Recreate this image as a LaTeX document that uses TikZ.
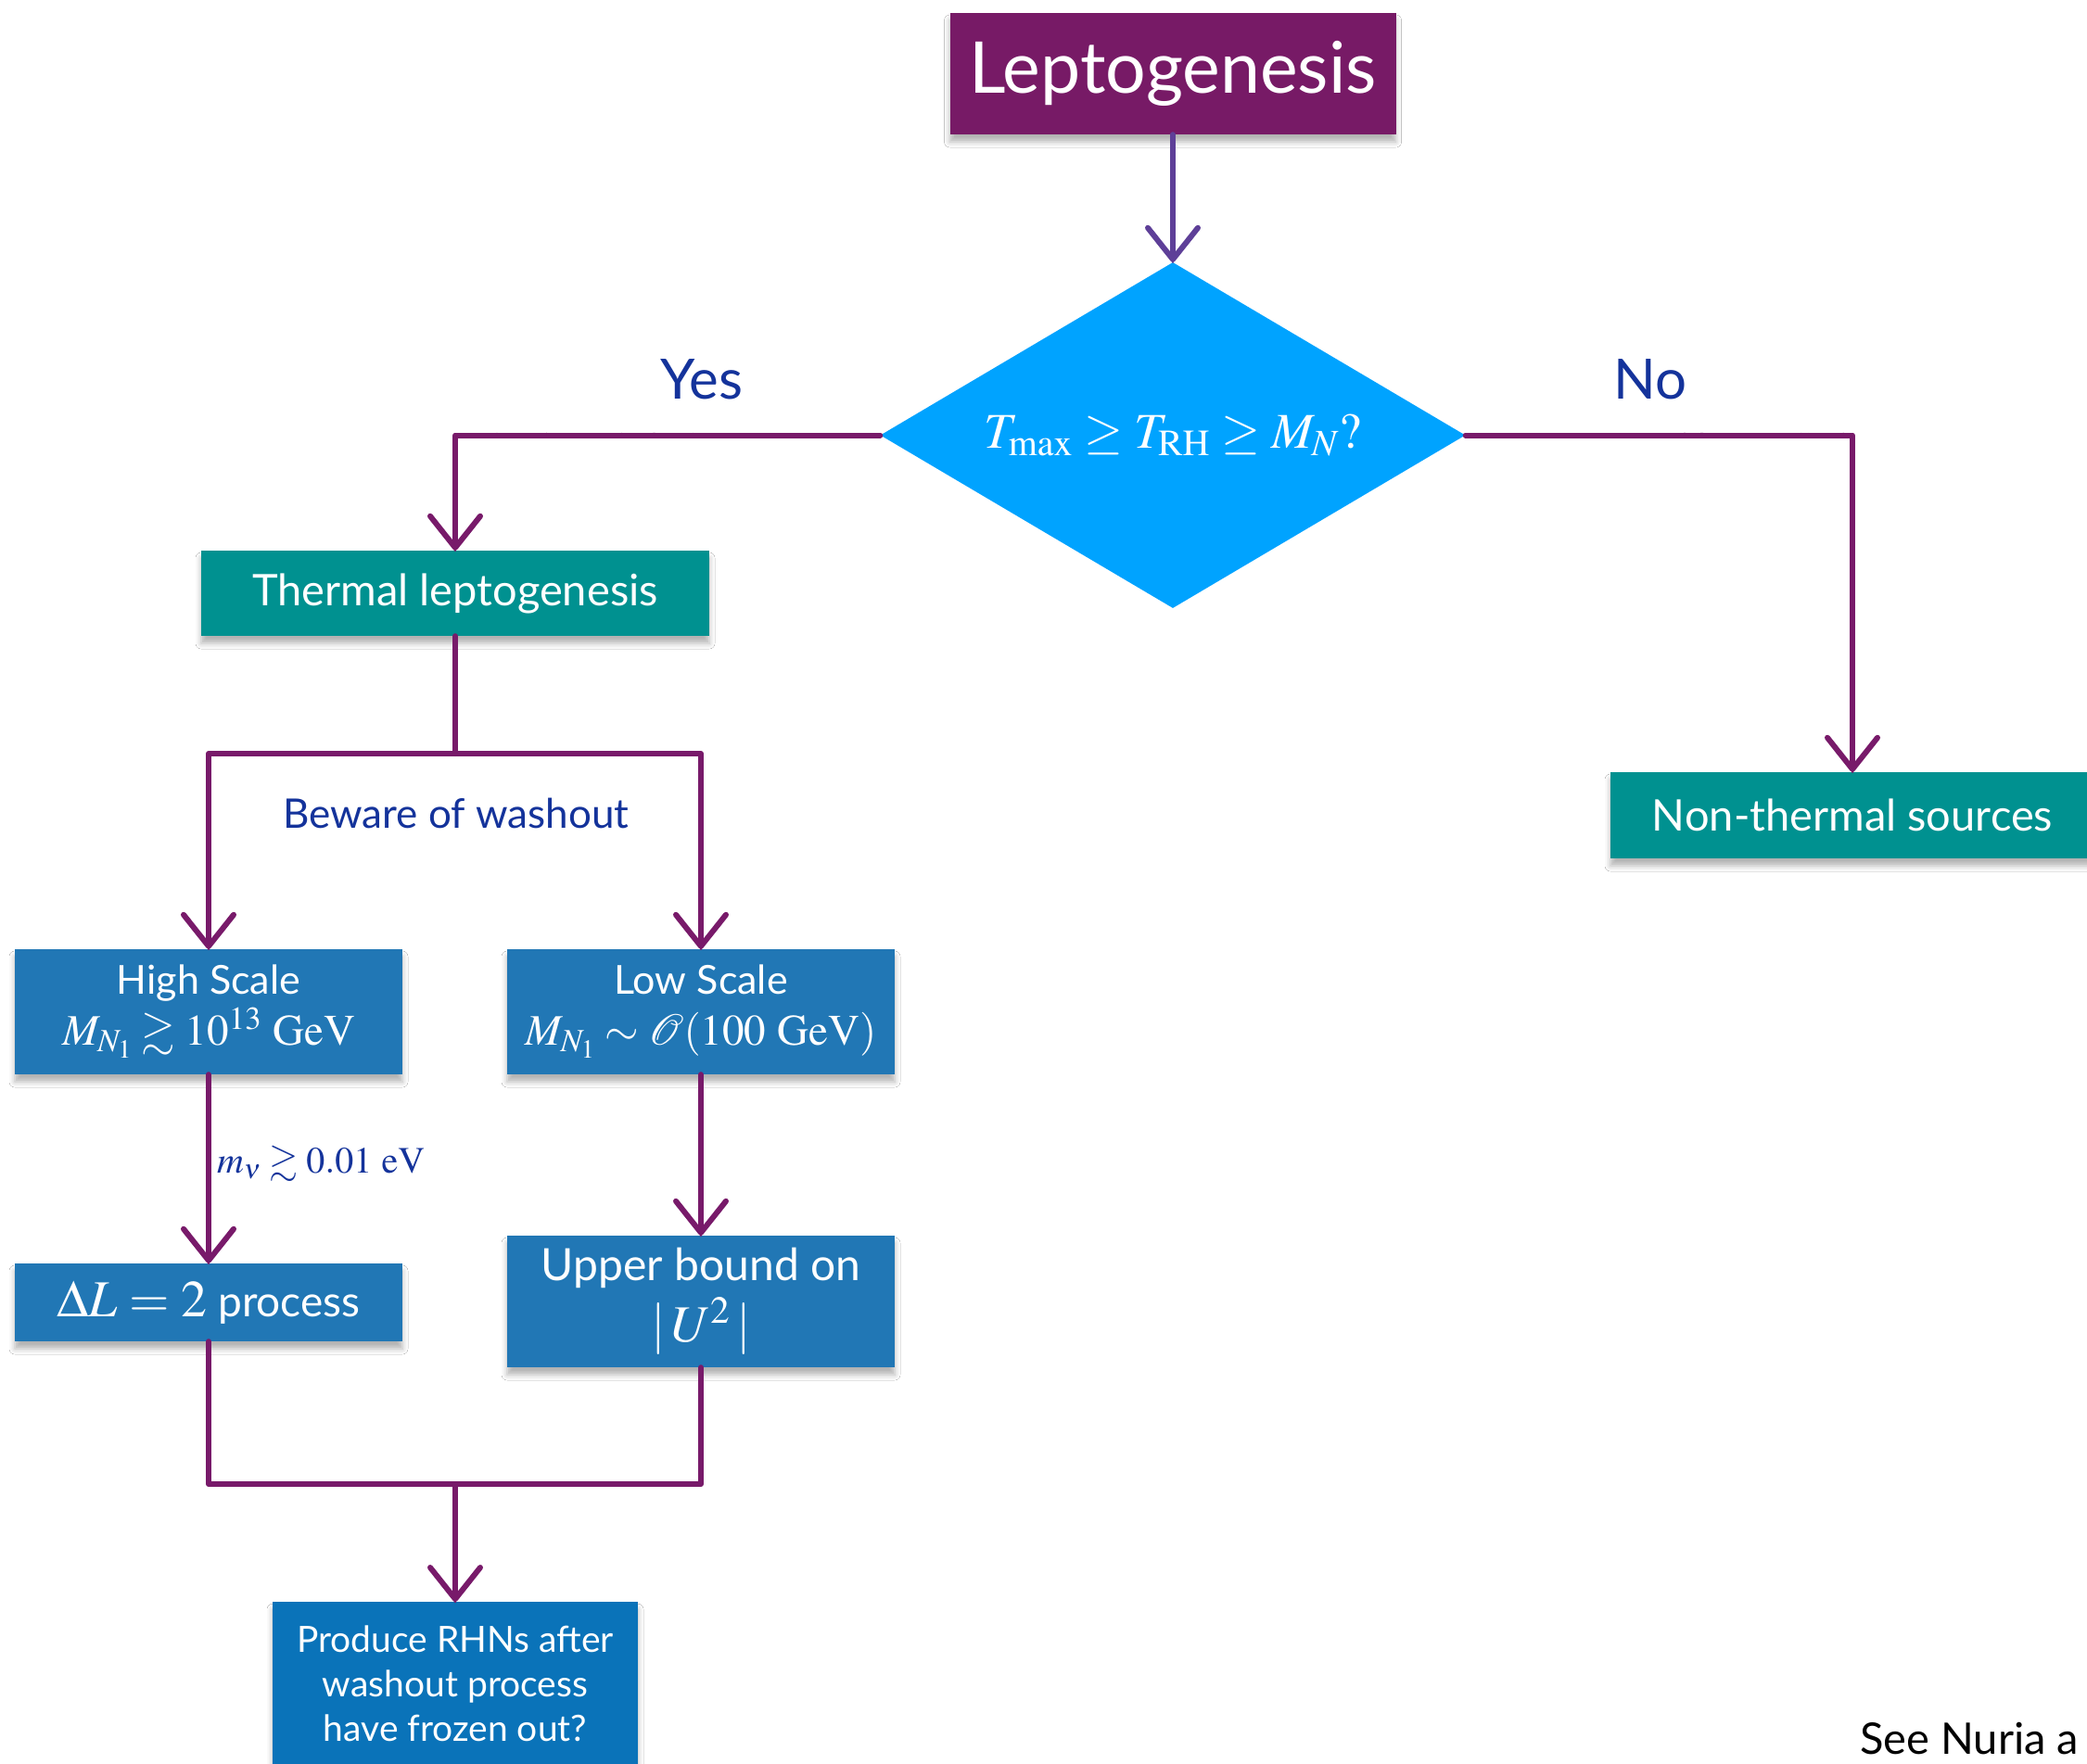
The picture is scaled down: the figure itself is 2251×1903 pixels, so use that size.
\documentclass[tikz,border=0pt]{standalone}
\usepackage{amsmath,amssymb}
\usepackage{mathptmx}
\usepackage[no-math]{fontspec}
\setmainfont{Lato}
\usetikzlibrary{shapes.geometric,arrows.meta,shadows.blur,decorations.pathmorphing}
\definecolor{leptopurple}{HTML}{771A66}
\definecolor{thermalteal}{HTML}{009190}
\definecolor{questionblue}{HTML}{00A3FF}
\definecolor{scaleblue}{HTML}{2177B5}
\definecolor{rhnblue}{HTML}{0A73B9}
\definecolor{linkpurple}{HTML}{781A6A}
\definecolor{linkviolet}{HTML}{5E3F98}
\definecolor{labelblue}{HTML}{14339B}
\newcommand\fsz[2]{\fontsize{#1pt}{#2pt}\selectfont}
\begin{document}
\begin{tikzpicture}[x=1pt,y=-1pt,
  box/.style={rectangle, inner sep=0pt, text=white, align=center,
    blur shadow={shadow xshift=0pt, shadow yshift=-8pt, shadow blur radius=6pt, shadow opacity=30}},
  conn/.style={draw=linkpurple, line width=6pt, line cap=round, line join=round,
    postaction={draw, -, line width=2.5pt, decorate,
      decoration={random steps, segment length=3pt, amplitude=1.4pt}}},
  arr/.style={conn, -{Straight Barb[length=34pt, width=54pt, round]}},
  lbl/.style={text=labelblue, inner sep=0pt}
]
\useasboundingbox (0,0) rectangle (2251,1903);
\fill[white] (0,0) rectangle (2251,1903);

% boxes
\node[box, fill=leptopurple, minimum width=481pt, minimum height=131pt, font=\fsz{77}{92}]
  (lepto) at (1265,79.5) {Leptogenesis};
\node[diamond, aspect=1.69, inner sep=0pt, minimum width=631pt, minimum height=373pt,
  fill=questionblue, text=white, font=\fsz{54}{64}]
  (q) at (1265,469.5) {$T_{\max}\geq T_{\mathrm{RH}}\geq M_N?$};
\node[box, fill=thermalteal, minimum width=548pt, minimum height=92pt, font=\fsz{47}{56}]
  (thermal) at (491,640) {Thermal leptogenesis};
\node[box, fill=thermalteal, minimum width=522pt, minimum height=93pt, font=\fsz{47}{56}]
  (nonthermal) at (1998,879.5) {Non-thermal sources};
\node[box, fill=scaleblue, minimum width=418pt, minimum height=135pt, font=\fsz{43}{55}]
  (high) at (225,1091.5) {High Scale\\ {\fsz{47}{55}$M_{N_1}\gtrsim 10^{13}\ \mathrm{GeV}$}};
\node[box, fill=scaleblue, minimum width=418pt, minimum height=135pt, font=\fsz{43}{55}]
  (low) at (756,1091.5) {Low Scale\\ {\fsz{47}{55}$M_{N_1}\sim \mathcal{O}(100\ \mathrm{GeV})$}};
\node[box, fill=scaleblue, minimum width=418pt, minimum height=84pt, font=\fsz{46}{54}]
  (dl) at (225,1405) {{\fsz{56}{60}$\Delta L = 2$} process};
\node[box, fill=scaleblue, minimum width=418pt, minimum height=142pt, font=\fsz{48}{66}]
  (ub) at (756,1404) {Upper bound on\\ {\fsz{56}{66}$|\,U^2\,|$}};
\node[box, fill=rhnblue, minimum width=394pt, minimum height=270pt, anchor=north,
  font=\fsz{39}{48}, align=center]
  (produce) at (491,1728) {Produce RHNs after\\ washout process\\ have frozen out?\\[46pt]};

% labels
\node[lbl, font=\fsz{60}{70}] (yes) at (757,409) {Yes};
\node[lbl, font=\fsz{60}{70}] (no) at (1780,409) {No};
\node[lbl, font=\fsz{44}{52}] (beware) at (492,877) {Beware of washout};
\node[lbl, font=\fsz{40}{48}, anchor=west] (mnu) at (234,1255) {$m_\nu \gtrsim 0.01\ \mathrm{eV}$};
\node[inner sep=0pt, anchor=west, font=\fsz{47}{56}] (see) at (2006,1876) {See Nuria a};

% junction points
\coordinate (split) at (491,813);
\coordinate (merge) at (491,1601);

% connectors
\draw[arr, draw=linkviolet] (lepto.south) -- (q.north);
\draw[arr] (q.west) -| (thermal.north);
\draw[arr] (q.east) -| (nonthermal.north);
\draw[conn] (thermal.south) -- (split);
\draw[arr] (split) -| (high.north);
\draw[arr] (split) -| (low.north);
\draw[arr] (high.south) -- (dl.north);
\draw[arr] (low.south) -- (ub.north);
\draw[conn] (dl.south) |- (merge);
\draw[conn] (ub.south) |- (merge);
\draw[arr] (merge) -- (produce.north);
\end{tikzpicture}
\end{document}
